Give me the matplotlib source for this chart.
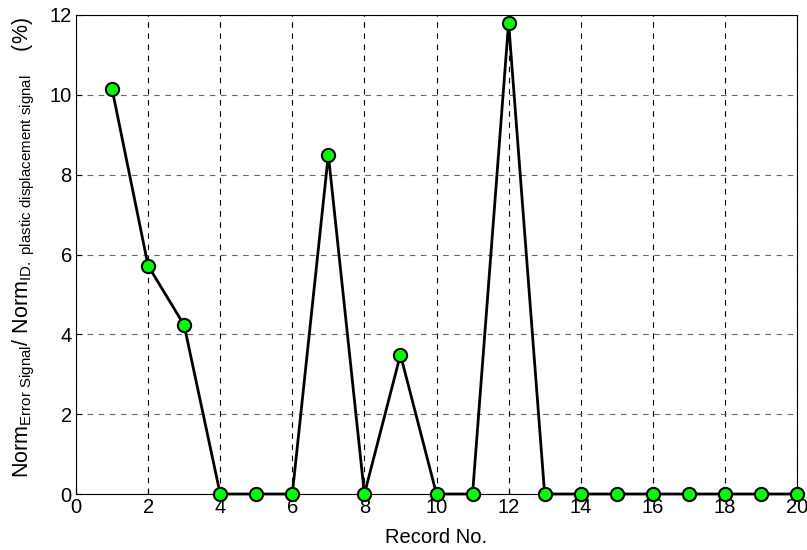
import matplotlib
matplotlib.use("Agg")
import matplotlib.pyplot as plt

plt.rcParams['font.family'] = ['Liberation Sans', 'DejaVu Sans']
plt.rcParams['mathtext.fontset'] = 'custom'
plt.rcParams['mathtext.rm'] = 'Liberation Sans'
plt.rcParams['mathtext.it'] = 'Liberation Sans'

records = list(range(1, 21))
error_pct = [10.15, 5.72, 4.23, 0, 0, 0, 8.5, 0, 3.49, 0,
             0, 11.81, 0, 0, 0, 0, 0, 0, 0, 0]

fig = plt.figure(figsize=(8.07, 5.5), dpi=100)
ax = fig.add_axes([76 / 807, 1 - 494 / 550, (797 - 76) / 807, (494 - 15) / 550])

ax.plot(records, error_pct, color='black', linewidth=2,
        marker='o', markersize=9.5, markerfacecolor='#00ff00',
        markeredgecolor='black', markeredgewidth=1.5, clip_on=False, zorder=3)

ax.set_xlim(0, 20)
ax.set_ylim(0, 12)
ax.set_xticks(range(0, 21, 2))
ax.set_yticks(range(0, 13, 2))
ax.tick_params(direction='in', labelsize=14.5, length=4, pad=3)
ax.xaxis.grid(True, linestyle=(0, (5, 5)), color='black', linewidth=0.8)
ax.yaxis.grid(True, linestyle=(0, (5, 5)), color='0.4', linewidth=0.8)
ax.set_axisbelow(True)

ax.set_xlabel('Record No.', fontsize=14.5, labelpad=8)
ax.set_ylabel(r'Norm$_{\mathrm{Error\ Signal}}$/ Norm$_{\mathrm{ID.\ plastic\ displacement\ signal}}$    (%)',
              fontsize=15.5)
ax.yaxis.set_label_coords(-0.054, 0.515)

fig.savefig('out.png', dpi=100)
